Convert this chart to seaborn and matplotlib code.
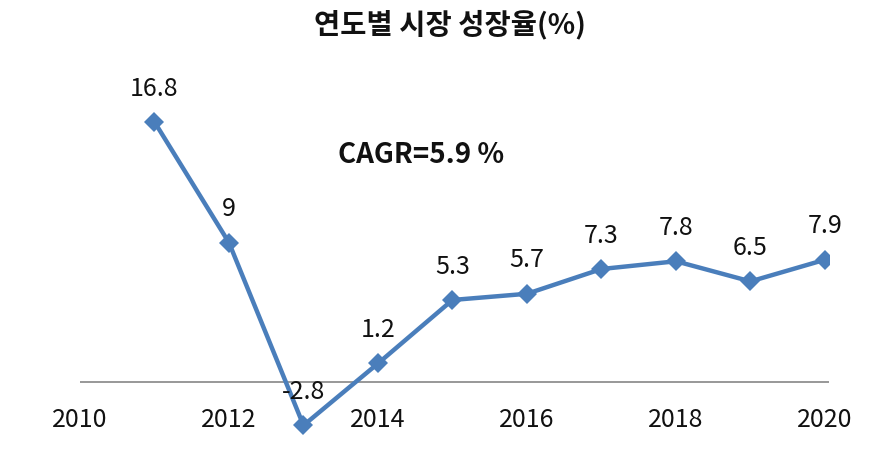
import matplotlib
matplotlib.use("Agg")
import matplotlib.pyplot as plt
import seaborn as sns
import pandas as pd

years = [2011, 2012, 2013, 2014, 2015, 2016, 2017, 2018, 2019, 2020]
growth = [16.8, 9, -2.8, 1.2, 5.3, 5.7, 7.3, 7.8, 6.5, 7.9]
value_labels = ["16.8", "9", "-2.8", "1.2", "5.3", "5.7", "7.3", "7.8", "6.5", "7.9"]
tick_years = [2010, 2012, 2014, 2016, 2018, 2020]
tick_labels = ["2010", "2012", "2014", "2016", "2018", "2020"]
title = "연도별 시장 성장율(%)"
note = "CAGR=5.9 %"

sns.set_theme(style="white")
plt.rcParams["font.family"] = ["Noto Sans CJK KR", "DejaVu Sans"]

df = pd.DataFrame({"year": years, "growth": growth})

fig = plt.figure(figsize=(8.85, 4.55), dpi=100)
ax = fig.add_axes([80 / 885, (455 - 436.2) / 455, 748.7 / 885, (436.2 - 72.4) / 455])
ax.set_xlim(2010, 2020.05)
ax.set_ylim(-3.5, 20)

ax.axhline(0, color="#868686", lw=1.2, zorder=1)
sns.lineplot(data=df, x="year", y="growth", ax=ax, color="#4a7ebb", linewidth=3.2,
             marker="D", markersize=10, markeredgewidth=0, zorder=3)

for x, y, lab in zip(years, growth, value_labels):
    ax.annotate(lab, (x, y), xytext=(0, 24), textcoords="offset points",
                ha="center", va="center", fontsize=18, color="#111111", zorder=4)

for x, lab in zip(tick_years, tick_labels):
    ax.text(x, -2.45, lab, ha="center", va="center", fontsize=18, color="#111111")

fig.text(421 / 885, 1 - 155 / 455, note, ha="center", va="center",
         fontsize=20, fontweight="bold", color="#111111")
fig.text(450 / 885, 1 - 25 / 455, title, ha="center", va="center",
         fontsize=20.5, fontweight="bold", color="#111111")

ax.set_xticks([])
ax.set_yticks([])
ax.set_xlabel("")
ax.set_ylabel("")
for s in ax.spines.values():
    s.set_visible(False)
ax.patch.set_alpha(0)

fig.savefig("out.png", dpi=100)
